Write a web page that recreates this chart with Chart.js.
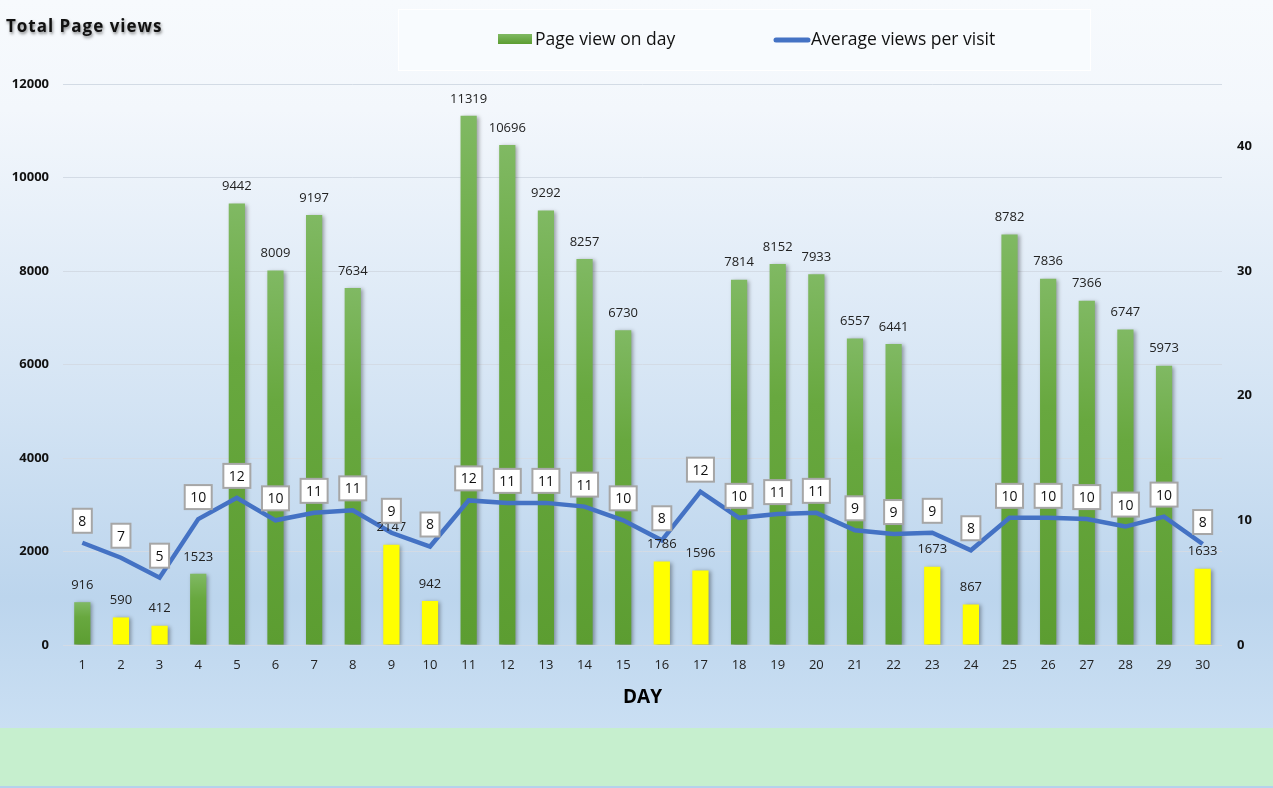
<!DOCTYPE html>
<html>
<head>
<meta charset="utf-8">
<script src="https://cdn.jsdelivr.net/npm/chart.js@4.4.0/dist/chart.umd.min.js"></script>
<style>
  html, body { margin: 0; padding: 0; background: #fff; }
  #wrap { width: 1273px; height: 788px; position: relative; }
</style>
</head>
<body>
<div id="wrap"><canvas id="myChart" width="1273" height="788"></canvas></div>
<script>
// data
const days = [1,2,3,4,5,6,7,8,9,10,11,12,13,14,15,16,17,18,19,20,21,22,23,24,25,26,27,28,29,30]
const pageViews = [916,590,412,1523,9442,8009,9197,7634,2147,942,11319,10696,9292,8257,6730,1786,1596,7814,8152,7933,6557,6441,1673,867,8782,7836,7366,6747,5973,1633]
const avgViews = [8.2,7.0,5.4,10.1,11.8,10.0,10.6,10.8,9.0,7.9,11.6,11.4,11.4,11.1,10.0,8.4,12.3,10.2,10.5,10.6,9.2,8.9,9.0,7.6,10.2,10.2,10.1,9.5,10.3,8.1]
const weekendDays = [2,3,9,10,16,17,23,24,30]
const leftTicks = [0,2000,4000,6000,8000,10000,12000]
const rightTicks = [0,10,20,30,40]

const FONT = "'Open Sans', 'Noto Sans', sans-serif"

const barColor = (c) => {
    const day = days[c.dataIndex]
    if (weekendDays.includes(day)) return '#ffff00'
    const chart = c.chart
    const y = chart.scales.y
    if (!y || !chart.chartArea) return '#6aaa42'
    const top = y.getPixelForValue(pageViews[c.dataIndex])
    const g = chart.ctx.createLinearGradient(0, top, 0, y.getPixelForValue(0))
    g.addColorStop(0, '#80b963')
    g.addColorStop(0.35, '#68a83f')
    g.addColorStop(1, '#5c9d31')
    return g
}

const backdrop = {
    id: 'backdrop',
    beforeDraw(chart) {
        const c = chart.ctx
        const W = chart.width
        c.save()
        const g = c.createLinearGradient(0, 0, 0, 728)
        g.addColorStop(0, '#f7fafd')
        g.addColorStop(0.15, '#f3f7fc')
        g.addColorStop(0.55, '#d4e4f4')
        g.addColorStop(0.82, '#bcd5ed')
        g.addColorStop(1, '#cadff3')
        c.fillStyle = g
        c.fillRect(0, 0, W, 728)
        c.fillStyle = '#c6efce'
        c.fillRect(0, 728, W, 58)
        c.fillStyle = '#b4d2ec'
        c.fillRect(0, 786, W, 2)

        // title
        c.font = `bold 17px ${FONT}`
        c.letterSpacing = '1px'
        c.textBaseline = 'middle'
        c.shadowColor = 'rgba(0,0,0,0.45)'
        c.shadowBlur = 3
        c.shadowOffsetX = 1
        c.shadowOffsetY = 2
        c.fillStyle = '#111'
        c.fillText('Total Page views', 6, 27)
        c.restore()

        // legend box
        c.save()
        c.fillStyle = '#f8fbfe'
        c.fillRect(398, 9, 692, 61)
        c.strokeStyle = '#ffffff'
        c.lineWidth = 1
        c.strokeRect(398.5, 9.5, 692, 61)
        const lg = c.createLinearGradient(0, 34, 0, 44)
        lg.addColorStop(0, '#80b963')
        lg.addColorStop(1, '#5c9d31')
        c.fillStyle = lg
        c.fillRect(498, 34, 34, 10)
        c.strokeStyle = '#4472c4'
        c.lineWidth = 5
        c.lineCap = 'round'
        c.beginPath()
        c.moveTo(776, 40)
        c.lineTo(808, 40)
        c.stroke()
        c.fillStyle = '#111'
        c.font = `17.5px ${FONT}`
        c.textBaseline = 'middle'
        c.fillText('Page view on day', 535, 40)
        c.fillText('Average views per visit', 811, 40)
        c.restore()
    },
    beforeDatasetDraw(chart, args) {
        if (args.index === 1) {
            const c = chart.ctx
            c.save()
            c.shadowColor = 'rgba(0,0,0,0.35)'
            c.shadowBlur = 4
            c.shadowOffsetX = 2
            c.shadowOffsetY = 1
        }
    },
    afterDatasetDraw(chart, args) {
        if (args.index === 1) chart.ctx.restore()
    },
    afterDatasetsDraw(chart) {
        const c = chart.ctx
        c.save()
        c.textAlign = 'center'
        c.textBaseline = 'middle'
        // bar labels
        c.font = `13px ${FONT}`
        c.fillStyle = '#222'
        chart.getDatasetMeta(1).data.forEach((bar, i) => {
            c.fillText(String(pageViews[i]), bar.x, bar.y - 17)
        })
        // line labels in boxes
        c.font = `14px ${FONT}`
        chart.getDatasetMeta(0).data.forEach((pt, i) => {
            const txt = String(Math.round(avgViews[i]))
            const w = c.measureText(txt).width + 11
            const h = 24
            const cy = pt.y - 22
            c.fillStyle = '#ffffff'
            c.fillRect(pt.x - w / 2, cy - h / 2, w, h)
            c.strokeStyle = '#a6a6a6'
            c.lineWidth = 2
            c.strokeRect(pt.x - w / 2, cy - h / 2, w, h)
            c.fillStyle = '#111'
            c.fillText(txt, pt.x, cy + 1)
        })
        c.restore()
    }
}

const ctx = document.getElementById('myChart').getContext('2d')
const myChart = new Chart(ctx, {
    type: 'bar',
    data: {
        labels: days,
        datasets: [{
            type: 'line',
            label: 'Average views per visit',
            data: avgViews,
            yAxisID: 'y1',
            borderColor: '#4472c4',
            borderWidth: 4.5,
            pointRadius: 0,
            tension: 0,
            order: 0
        }, {
            label: 'Page view on day',
            data: pageViews,
            yAxisID: 'y',
            backgroundColor: barColor,
            barPercentage: 0.42,
            categoryPercentage: 1,
            order: 1
        }]
    },
    options: {
        responsive: false,
        animation: false,
        layout: { padding: { top: 84, left: 0, right: 0, bottom: 73 } },
        plugins: {
            legend: { display: false },
            title: { display: false },
            tooltip: { enabled: false }
        },
        scales: {
            x: {
                grid: { display: false, drawTicks: false },
                border: { display: false },
                ticks: { padding: 12, color: '#222', font: { family: FONT, size: 13 } },
                title: {
                    display: true, text: 'DAY', color: '#000',
                    font: { family: FONT, size: 19, weight: 'bold' },
                    padding: { top: 0, bottom: 6 }
                },
                afterFit: s => { s.width; s.height = 70 }
            },
            y: {
                position: 'left',
                min: 0, max: 12000,
                afterBuildTicks: s => { s.ticks = leftTicks.map(v => ({ value: v })) },
                grid: { color: '#d3dbe5', drawTicks: false },
                border: { display: false },
                ticks: {
                    padding: 14, color: '#111',
                    font: { family: FONT, size: 13, weight: 'bold' },
                    callback: v => String(v)
                },
                afterFit: s => { s.width = 63 }
            },
            y1: {
                position: 'right',
                min: 0, max: 45,
                afterBuildTicks: s => { s.ticks = rightTicks.map(v => ({ value: v })) },
                grid: { display: false, drawTicks: false },
                border: { display: false },
                ticks: {
                    padding: 15, color: '#111',
                    font: { family: FONT, size: 13, weight: 'bold' },
                    callback: v => String(v)
                },
                afterFit: s => { s.width = 51 }
            }
        }
    },
    plugins: [backdrop]
})
</script>
</body>
</html>
